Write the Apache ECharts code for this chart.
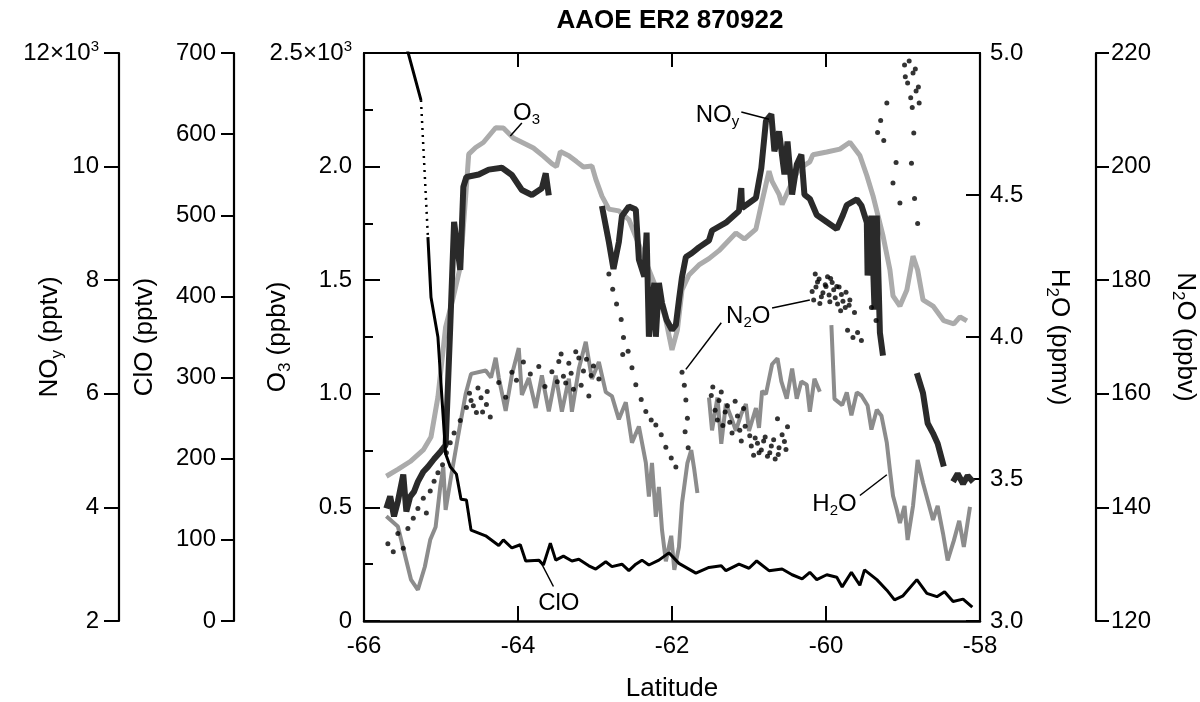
<!DOCTYPE html>
<html>
<head>
<meta charset="utf-8">
<title>AAOE ER2 870922</title>
<script src="https://cdn.jsdelivr.net/npm/echarts@6/dist/echarts.min.js"></script>
<style>
  html, body { margin: 0; padding: 0; background: #fff; }
  #chart { width: 1200px; height: 702px; }
</style>
</head>
<body>
<div id="chart"></div>
<script>
// ER-2 flight of 22 Sept 1987: ozone, NOy, ClO, H2O and N2O against latitude.
// A null value marks a gap in a record.

// Ozone, ppbv
const o3Lat = [-65.71,-65.56,-65.40,-65.23,-65.13,-65.04,-64.94,-64.84,-64.75,-64.68,-64.64,-64.55,-64.45,-64.29,-64.19,-64.06,-63.93,-63.80,-63.67,-63.56,-63.50,-63.45,-63.34,-63.24,-63.15,-63.04,-62.99,-62.91,-62.82,-62.69,-62.56,-62.43,-62.30,-62.17,-62.08,-62.00,-61.93,-61.87,-61.78,-61.65,-61.52,-61.39,-61.17,-61.06,-60.91,-60.83,-60.74,-60.70,-60.61,-60.57,-60.48,-60.35,-60.21,-60.17,-59.99,-59.82,-59.69,-59.56,-59.47,-59.39,-59.26,-59.17,-59.13,-59.04,-58.95,-58.87,-58.81,-58.74,-58.61,-58.47,-58.34,-58.26,-58.17];
const o3Ppbv = [637,667,702,753,810,986,1294,1426,1558,1866,2055,2084,2106,2171,2170,2126,2104,2082,2046,2013,2000,2066,2048,2022,1998,2003,1945,1870,1813,1805,1767,1657,1546,1435,1325,1193,1281,1457,1523,1567,1595,1630,1708,1681,1725,1848,1980,1935,1878,1833,1903,1991,2021,2052,2064,2077,2107,2049,1961,1872,1696,1546,1431,1386,1457,1606,1545,1413,1386,1322,1308,1339,1321];

// Total reactive nitrogen, pptv
const noyLat = [-65.71,-65.66,-65.61,-65.56,-65.49,-65.45,-65.40,-65.35,-65.30,-65.23,-65.17,-65.09,-65.01,-64.94,-64.88,-64.83,-64.78,-64.75,-64.71,-64.67,-64.51,-64.38,-64.21,-64.08,-63.95,-63.82,-63.69,-63.64,-63.60,
  -63.20,
  -62.91,-62.82,-62.76,-62.69,-62.65,-62.56,-62.47,-62.43,-62.36,-62.33,-62.30,-62.23,-62.21,-62.17,-62.13,-62.07,-62.00,-61.95,-61.91,-61.87,-61.82,-61.74,-61.65,-61.52,-61.48,-61.30,-61.13,-61.10,-61.09,-60.91,-60.84,-60.78,-60.71,-60.67,-60.61,-60.54,-60.50,-60.44,-60.38,-60.32,-60.28,-60.21,-60.12,-59.99,-59.86,-59.78,-59.73,-59.60,-59.54,-59.47,-59.46,-59.41,-59.37,-59.34,-59.30,-59.26,
  -59.00,
  -58.82,-58.74,-58.68,-58.61,-58.55,-58.47,
  -58.41,
  -58.35,-58.29,-58.22,-58.16,-58.09];
const noyPptv = [3984,4195,3842,4105,4579,3927,4190,4278,4453,4627,4714,4852,4975,5097,7176,9025,8497,8180,9641,9817,9861,9947,9979,9852,9588,9500,9618,9881,9493,
  null,
  9306,8673,8197,8673,9131,9298,9245,8363,8063,8837,7005,7955,7004,7953,7600,7300,7123,7211,7651,8057,8409,8479,8578,8699,8875,9012,9218,9623,9271,9447,9976,10803,10921,10270,10620,9862,10442,9507,10035,10211,9505,9433,9148,9025,8902,9148,9324,9423,9316,9016,8083,9137,7482,9136,7076,6671,
  null,
  6364,6010,5481,5304,5126,4720,
  null,
  4453,4593,4416,4556,4449];

// Chlorine monoxide, pptv (samples 1-2 are sparse, drawn dotted)
const cloLat = [-65.44,-65.26,-65.17,-65.13,-65.04,-64.94,-64.88,-64.80,-64.74,-64.67,-64.61,-64.42,-64.25,-64.19,-64.08,-63.97,-63.90,-63.73,-63.67,-63.58,-63.51,-63.41,-63.30,-63.21,-63.08,-62.99,-62.86,-62.78,-62.65,-62.56,-62.47,-62.39,-62.30,-62.17,-62.04,-61.91,-61.69,-61.52,-61.36,-61.30,-61.13,-61.00,-60.90,-60.74,-60.57,-60.44,-60.31,-60.21,-60.12,-59.99,-59.86,-59.79,-59.67,-59.56,-59.50,-59.34,-59.21,-59.11,-59.00,-58.82,-58.69,-58.56,-58.46,-58.35,-58.22,-58.10];
const cloPptv = [705,642,473,399,350,206,190,181,150,149,112,105,93,100,90,94,74,75,69,96,75,80,74,76,68,64,73,67,70,62,70,75,69,75,84,71,59,66,68,62,70,65,74,62,64,57,52,60,51,57,54,42,60,44,63,51,38,26,31,51,34,30,36,24,27,17];
const cloSparse = [1, 2];

// Water vapour, ppmv
const h2oLat = [-65.71,-65.56,-65.39,-65.30,-65.21,-65.14,-65.07,-65.01,-64.97,-64.94,-64.87,-64.78,-64.68,-64.61,-64.42,-64.35,-64.29,-64.25,-64.16,-64.08,-63.99,-63.95,-63.86,-63.77,-63.69,-63.60,-63.51,-63.43,-63.34,-63.30,-63.21,-63.12,-63.04,-62.95,-62.86,-62.78,-62.69,-62.60,-62.52,-62.43,-62.34,-62.30,-62.26,-62.21,-62.17,-62.13,-62.08,-62.01,-61.97,-61.91,-61.87,-61.80,-61.75,-61.71,-61.67,
  -61.60,
  -61.52,-61.48,-61.41,-61.36,-61.30,-61.23,-61.17,-61.10,-61.04,-61.00,-60.91,-60.87,-60.83,-60.78,-60.70,-60.63,-60.58,-60.51,-60.44,-60.38,-60.32,-60.25,-60.21,-60.15,-60.08,
  -60.00,
  -59.93,-59.89,-59.79,-59.73,-59.67,-59.60,-59.54,-59.46,-59.41,-59.34,-59.28,-59.21,-59.17,-59.13,-59.08,-59.04,-58.98,-58.94,-58.87,-58.81,-58.74,-58.68,-58.61,-58.55,-58.48,-58.42,-58.34,-58.27,-58.21,-58.13];
const h2oPpmv = [3.369,3.333,3.146,3.110,3.191,3.286,3.331,3.472,3.542,3.391,3.507,3.648,3.799,3.870,3.882,3.857,3.927,3.857,3.740,3.866,3.961,3.796,3.856,3.750,3.865,3.738,3.864,3.737,3.853,3.737,3.888,3.983,3.852,3.912,3.806,3.792,3.710,3.770,3.628,3.685,3.558,3.438,3.557,3.367,3.472,3.321,3.210,3.300,3.180,3.260,3.415,3.556,3.602,3.532,3.451,
  null,
  3.787,3.671,3.787,3.624,3.765,3.716,3.670,3.729,3.764,3.669,3.750,3.680,3.810,3.799,3.904,3.925,3.844,3.783,3.889,3.783,3.843,3.832,3.737,3.853,3.807,
  null,
  4.042,3.782,3.760,3.805,3.724,3.805,3.794,3.759,3.674,3.744,3.723,3.627,3.532,3.441,3.391,3.345,3.405,3.285,3.405,3.567,3.486,3.426,3.356,3.405,3.308,3.213,3.283,3.353,3.261,3.402];

// Nitrous oxide samples, ppbv
const n2oLat = [-65.69,-65.62,-65.56,-65.49,-65.43,-65.36,-65.30,-65.23,-65.19,-65.14,-65.09,-65.04,-64.98,-64.93,-64.88,-64.83,-64.75,-64.67,-64.61,-64.54,-64.48,-64.41,-64.36,-64.25,-64.16,-64.08,-64.02,-63.93,-63.84,-63.73,-63.65,-63.56,-63.47,-63.41,-63.34,-63.28,-63.21,-63.15,-63.08,-63.02,-62.95,
  -64.63,-64.58,-64.52,-64.46,-64.40,
  -63.49,-63.44,-63.38,-63.31,-63.25,-63.18,-63.11,-63.05,
  -62.82,-62.77,-62.72,-62.66,-62.63,-62.57,-62.52,-62.47,-62.40,-62.34,-62.27,-62.21,-62.14,-62.08,-62.01,-61.95,-62.64,
  -61.87,-61.84,-61.82,-61.80,-61.83,-61.79,
  -61.49,-61.44,-61.39,-61.34,-61.28,-61.22,-61.15,-61.10,-61.05,-60.97,-60.92,-60.87,-60.81,-60.76,-60.71,-60.66,-60.61,-60.54,-60.63,-60.50,
  -61.47,-61.41,-61.36,-61.31,-61.25,-61.18,-61.12,-61.07,
  -60.99,-60.94,-60.89,-60.84,-60.79,-60.73,-60.68,-60.62,-60.57,-60.52,
  -60.18,-60.11,-60.06,-60.01,-59.95,-59.90,-59.85,-59.80,-59.75,-59.69,-59.63,-59.72,-59.65,-59.59,-59.54,-59.41,-59.35,-60.14,-59.98,
  -60.16,-60.13,-60.09,-60.04,-60.00,-59.96,-59.92,-59.88,-59.83,-59.78,-59.74,-59.70,-60.08,-59.94,-59.86,-59.81,
  -59.33,-59.29,-59.25,-59.21,-59.13,-59.09,-59.04,-58.98,-58.94,-58.90,-58.87,-58.83,-58.79,-58.86,-58.89,-58.85,-58.81,
  -58.97,-58.92,-58.88,-58.84,-58.80];
const n2oPpbv = [133.6,132.2,135.4,132.8,136.3,138.1,139.8,141.6,139.0,142.9,144.6,146.1,147.5,149.6,151.4,153.1,155.3,157.6,158.8,156.7,159.3,158.1,155.9,162.0,159.4,163.8,162.4,165.6,163.5,164.8,161.3,163.9,165.7,163.1,165.4,160.8,166.3,164.0,159.6,164.9,162.6,
  160.1,157.9,161.0,156.8,160.4,
  162.1,167.0,161.9,163.6,167.4,161.5,166.1,163.2,
  181.1,178.4,175.8,173.1,169.9,167.5,164.6,161.6,159.0,156.9,155.4,154.5,152.8,150.6,148.7,147.1,166.9,
  163.8,161.5,158.9,155.7,153.3,150.5,
  159.7,157.1,158.8,154.4,157.9,153.1,156.1,151.7,154.3,150.8,152.2,149.6,151.7,149.0,150.8,148.5,150.5,151.6,155.6,154.2,
  161.2,155.4,160.3,156.8,155.0,158.7,153.6,157.4,
  152.6,149.2,151.3,150.1,152.4,149.6,151.9,149.3,152.8,150.2,
  178.0,179.7,177.1,179.2,176.2,178.3,175.8,177.5,175.2,176.5,174.3,171.2,169.9,170.8,169.4,175.2,172.9,181.1,180.6,
  176.5,178.8,180.2,177.8,178.9,177.4,179.6,176.9,178.8,176.3,177.9,175.6,175.9,180.3,178.9,174.6,
  206.0,208.1,204.6,211.2,197.1,200.7,193.6,217.9,214.7,212.1,216.5,213.3,211.2,205.9,200.6,194.4,190.0,
  215.8,218.6,210.4,217.2,214.0];

// Axis scales: [min, max, step]
const latScale = [-66, -58, 2];
const o3Scale = [0, 2500, 500];
const cloScale = [0, 700, 100];
const noyScale = [2000, 12000, 2000];
const h2oScale = [3, 5, 0.5];
const n2oScale = [120, 220, 20];

const FONT = '"Liberation Sans", Arial, Helvetica, sans-serif';
const INK = '#000';
const TICK_FS = 24;
const NAME_FS = 26;

const supRich = {
  n: { fontSize: TICK_FS, fontFamily: FONT, color: INK, lineHeight: 28 },
  p: { fontSize: 15, fontFamily: FONT, color: INK, lineHeight: 15, verticalAlign: 'top' }
};
const subRich = {
  m: { fontSize: NAME_FS, fontFamily: FONT, color: INK, lineHeight: 32 },
  s: { fontSize: 17, fontFamily: FONT, color: INK, lineHeight: 17, verticalAlign: 'bottom' }
};

const pairs = (xs, ys) => xs.map((x, i) => [x, ys[i] === null ? '-' : ys[i]]);

const cloPts = pairs(cloLat, cloPptv);
const cloSolid = cloPts.slice(0, cloSparse[0] + 1)
  .concat([[cloLat[cloSparse[0]], '-']])
  .concat(cloPts.slice(cloSparse[1]));
const cloDotted = cloPts.slice(cloSparse[0], cloSparse[1] + 1);

function yAxisDef(scale, side, offset, inside, tickLen, margin, fmt, name, gap, rotate) {
  return {
    type: 'value', position: side, offset: offset,
    min: scale[0], max: scale[1], interval: scale[2],
    axisLine: { show: true, onZero: false, lineStyle: { color: INK, width: 2.2 } },
    axisTick: { show: true, inside: inside, length: tickLen, lineStyle: { color: INK, width: 2 } },
    splitLine: { show: false },
    axisLabel: { color: INK, fontSize: TICK_FS, fontFamily: FONT, margin: margin, formatter: fmt, rich: supRich },
    name: name, nameLocation: 'middle', nameGap: gap, nameRotate: rotate, nameMoveOverlap: false,
    nameTextStyle: { color: INK, fontSize: NAME_FS, fontFamily: FONT, rich: subRich }
  };
}

const o3Axis = yAxisDef(o3Scale, 'left', 0, true, 16, 12,
  v => v === 0 ? '0' : (v === o3Scale[1] ? '{n|2.5×10}{p|3}' : (v / 1000).toFixed(1)),
  '{m|O}{s|3}{m| (ppbv)}', 70, 90);
o3Axis.minorTick = { show: true, splitNumber: 2, length: 9, lineStyle: { color: INK, width: 2 } };
o3Axis.minorSplitLine = { show: false };

const cloAxis = yAxisDef(cloScale, 'left', 130, false, 13, 18, v => String(v),
  '{m|ClO (pptv)}', 73, 90);
const noyAxis = yAxisDef(noyScale, 'left', 245, false, 15, 20,
  v => v === noyScale[1] ? '{n|12×10}{p|3}' : String(v / 1000),
  '{m|NO}{s|y}{m| (pptv)}', 53, 90);
const h2oAxis = yAxisDef(h2oScale, 'right', 0, true, 14, 10, v => v.toFixed(1),
  '{m|H}{s|2}{m|O (ppmv)}', 63, -90);
const n2oAxis = yAxisDef(n2oScale, 'right', 116, false, 13, 15, v => String(v),
  '{m|N}{s|2}{m|O (ppbv)}', 73, -90);

const chart = echarts.init(document.getElementById('chart'));

chart.setOption({
  animation: false,
  backgroundColor: '#fff',
  grid: { left: 364, right: 220, top: 53, bottom: 81, containLabel: false, outerBoundsMode: 'none' },
  xAxis: [
    {
      type: 'value', position: 'bottom', min: latScale[0], max: latScale[1], interval: latScale[2],
      axisLine: { show: true, onZero: false, lineStyle: { color: INK, width: 2.5 } },
      axisTick: { show: true, inside: true, length: 15, lineStyle: { color: INK, width: 2 } },
      splitLine: { show: false },
      axisLabel: { color: INK, fontSize: TICK_FS, fontFamily: FONT, margin: 13 },
      name: 'Latitude', nameLocation: 'middle', nameGap: 55, nameMoveOverlap: false,
      nameTextStyle: { color: INK, fontSize: NAME_FS, fontFamily: FONT }
    },
    {
      type: 'value', position: 'top', min: latScale[0], max: latScale[1], interval: latScale[2],
      axisLine: { show: true, onZero: false, lineStyle: { color: INK, width: 2.2 } },
      axisTick: { show: true, inside: true, length: 14, lineStyle: { color: INK, width: 2 } },
      splitLine: { show: false },
      axisLabel: { show: false }
    }
  ],
  yAxis: [o3Axis, cloAxis, noyAxis, h2oAxis, n2oAxis],
  series: [
    { name: 'O3', type: 'line', yAxisIndex: 0, data: pairs(o3Lat, o3Ppbv),
      symbol: 'none', showSymbol: false, connectNulls: false, z: 2,
      lineStyle: { color: '#ababab', width: 5 } },
    { name: 'H2O', type: 'line', yAxisIndex: 3, data: pairs(h2oLat, h2oPpmv),
      symbol: 'none', showSymbol: false, connectNulls: false, z: 2,
      lineStyle: { color: '#8c8c8c', width: 4 } },
    { name: 'NOy', type: 'line', yAxisIndex: 2, data: pairs(noyLat, noyPptv),
      symbol: 'none', showSymbol: false, connectNulls: false, z: 3,
      lineStyle: { color: '#2a2a2a', width: 6 } },
    { name: 'N2O', type: 'scatter', yAxisIndex: 4, data: pairs(n2oLat, n2oPpbv),
      symbol: 'circle', symbolSize: 5, z: 4, itemStyle: { color: INK } },
    { name: 'ClO', type: 'line', yAxisIndex: 1, data: cloSolid,
      symbol: 'none', showSymbol: false, connectNulls: false, z: 5,
      lineStyle: { color: INK, width: 3 } },
    { name: 'ClO sparse', type: 'line', yAxisIndex: 1, data: cloDotted,
      symbol: 'none', showSymbol: false, z: 5,
      lineStyle: { color: INK, width: 2.5, type: [2, 5] } }
  ]
});

// Callout labels with leader lines, placed in data coordinates of each record's axis
const callouts = [
  { axis: 0, text: '{m|O}{s|3}', at: [-63.89, 2236], leaders: [[[-63.95, 2192], [-64.10, 2135]]] },
  { axis: 2, text: '{m|NO}{s|y}', at: [-61.41, 10898], leaders: [[[-61.10, 10963], [-60.74, 10834]]] },
  { axis: 4, text: '{m|N}{s|2}{m|O}', at: [-61.01, 173.7], leaders: [[[-60.70, 175.1], [-60.21, 176.5]], [[-61.36, 172.5], [-61.82, 164.3]]] },
  { axis: 1, text: '{m|ClO}', at: [-63.47, 21.5], leaders: [[[-63.54, 42.5], [-63.71, 73.6]]] },
  { axis: 3, text: '{m|H}{s|2}{m|O}', at: [-59.89, 3.412], leaders: [[[-59.56, 3.442], [-59.21, 3.515]]] }
];

const calloutRich = {
  m: { fontSize: 24, fontFamily: FONT, fill: INK, lineHeight: 28 },
  s: { fontSize: 15, fontFamily: FONT, fill: INK, lineHeight: 15, verticalAlign: 'bottom' }
};

const toPx = (axis, p) => chart.convertToPixel({ xAxisIndex: 0, yAxisIndex: axis }, p);
const graphics = [{
  type: 'text', z: 20,
  style: { text: 'AAOE ER2 870922', x: 670, y: 21, align: 'center', verticalAlign: 'middle',
           textAlign: 'center', textVerticalAlign: 'middle',
           font: 'bold 26px ' + FONT, fill: INK }
}];
callouts.forEach(c => {
  const p = toPx(c.axis, c.at);
  graphics.push({
    type: 'text', z: 20,
    style: { text: c.text, rich: calloutRich, x: p[0], y: p[1], align: 'center', verticalAlign: 'middle',
             textAlign: 'center', textVerticalAlign: 'middle', fill: INK, fontSize: 24, fontFamily: FONT }
  });
  c.leaders.forEach(l => {
    const a = toPx(c.axis, l[0]);
    const b = toPx(c.axis, l[1]);
    graphics.push({
      type: 'line', z: 20,
      shape: { x1: a[0], y1: a[1], x2: b[0], y2: b[1] },
      style: { stroke: INK, lineWidth: 1.5 }
    });
  });
});
chart.setOption({ graphic: graphics });
</script>
</body>
</html>
